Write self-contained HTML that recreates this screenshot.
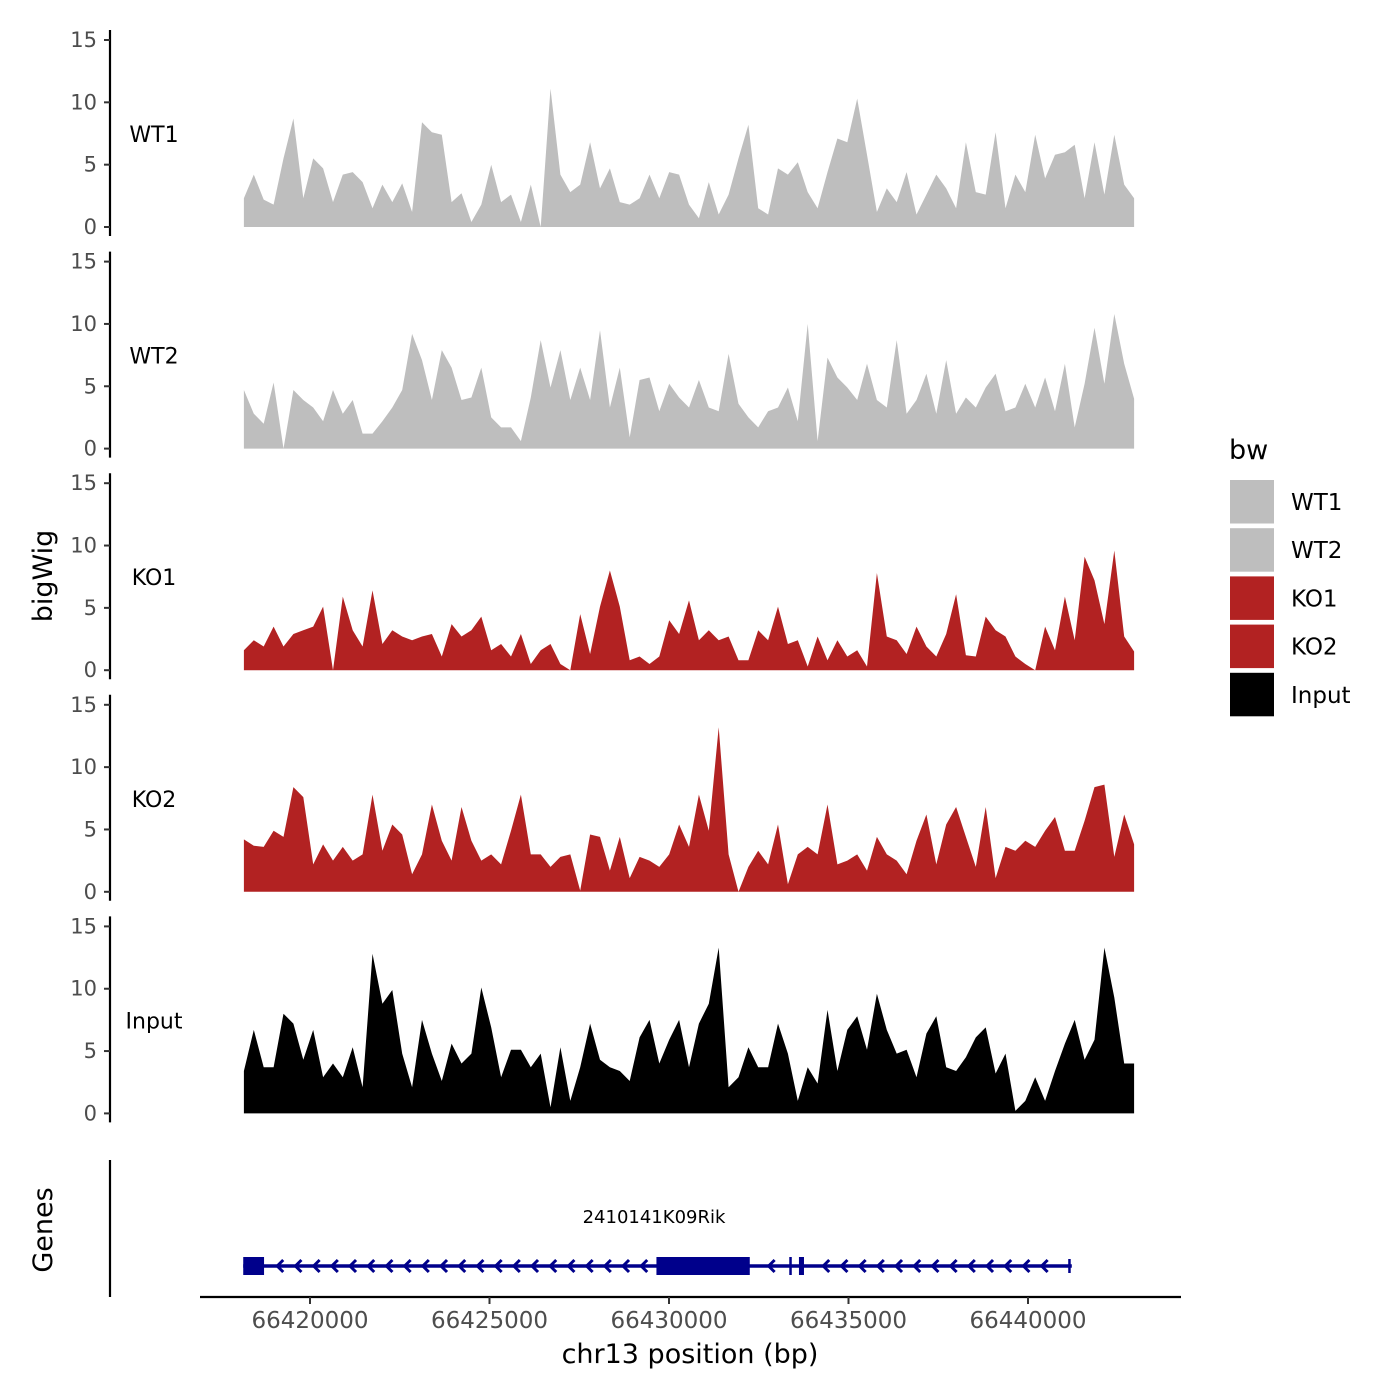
<!DOCTYPE html>
<html><head><meta charset="utf-8"><style>
html,body{margin:0;padding:0;background:#fff;}
svg{display:block;font-family:"DejaVu Sans","Liberation Sans",sans-serif;}
</style></head><body>
<svg id="chart" width="1400" height="1400" viewBox="0 0 1400 1400" xmlns="http://www.w3.org/2000/svg">
<rect width="1400" height="1400" fill="#fff"/>
<g id="tracks"></g>
<g id="genes"></g>
<g id="xaxis"></g>
<text x="52" y="576" font-size="27" text-anchor="middle" transform="rotate(-90 52 576)">bigWig</text>
<text x="52" y="1230" font-size="27" text-anchor="middle" transform="rotate(-90 52 1230)">Genes</text>
<text x="690" y="1363" font-size="27" text-anchor="middle">chr13 position (bp)</text>
<g id="legend"></g>
</svg>
<script>
const trackNames = ["WT1","WT2","KO1","KO2","Input"];
const trackColors = ["#bebebe","#bebebe","#b22222","#b22222","#000000"];
const startBp = 66418160;
const binBp = 275.5;
const wt1 = [2.3,4.2,2.2,1.8,5.5,8.7,2.3,5.5,4.7,2,4.2,4.4,3.6,1.5,3.4,2,3.5,1.2,8.4,7.6,7.4,2,2.7,0.4,1.8,5,2,2.6,0.4,3.4,0,11.1,4.2,2.8,3.4,6.8,3.1,4.7,2,1.8,2.3,4.2,2.3,4.4,4.2,1.8,0.7,3.6,1,2.6,5.5,8.2,1.5,1,4.7,4.2,5.2,2.8,1.5,4.4,7.1,6.8,10.3,5.8,1.2,3.1,2,4.4,1,2.6,4.2,3.1,1.5,6.8,2.8,2.6,7.6,1.5,4.2,2.8,7.4,3.9,5.8,6,6.6,2.3,6.8,2.6,7.4,3.4,2.3];
const wt2 = [4.7,2.8,2,5.3,0,4.7,3.9,3.3,2.2,4.7,2.8,3.9,1.2,1.2,2.2,3.3,4.7,9.2,7.1,3.9,7.9,6.5,3.9,4.1,6.5,2.5,1.7,1.7,0.6,4.1,8.7,4.9,7.9,3.9,6.5,3.9,9.5,3.3,6.5,0.9,5.5,5.7,3,5.2,4.1,3.3,5.5,3.3,3,7.6,3.6,2.5,1.7,3,3.3,4.9,2.2,10,0.6,7.3,5.7,4.9,3.9,6.8,3.9,3.3,8.7,2.8,3.9,6,2.8,7.1,2.8,4.1,3.3,4.9,6,3,3.3,5.2,3.3,5.7,3,6.8,1.7,5.2,9.7,5.2,10.8,6.8,4];
const ko1 = [1.6,2.4,1.9,3.5,1.9,2.9,3.2,3.5,5.1,0,5.9,3.2,1.9,6.4,2.1,3.2,2.7,2.4,2.7,2.9,1.1,3.7,2.7,3.2,4.3,1.6,2.1,1.1,2.9,0.5,1.6,2.1,0.5,0,4.5,1.3,5.1,8,5.1,0.8,1.1,0.5,1.1,4,2.9,5.6,2.4,3.2,2.4,2.7,0.8,0.8,3.2,2.4,5.1,2.1,2.4,0.3,2.7,0.8,2.4,1.1,1.6,0.3,7.8,2.7,2.4,1.3,3.5,1.9,1.1,2.9,6.1,1.2,1.1,4.3,3.2,2.7,1.1,0.5,0,3.5,1.6,5.9,2.4,9.1,7.2,3.7,9.6,2.7,1.5];
const ko2 = [4.2,3.7,3.6,4.9,4.4,8.4,7.6,2.2,3.8,2.5,3.6,2.5,3,7.8,3.3,5.4,4.6,1.4,3,7,4.1,2.5,6.8,4.1,2.5,3,2.2,4.9,7.8,3,3,2,2.8,3,0.1,4.6,4.4,1.7,4.4,1.1,2.8,2.5,2,3,5.4,3.6,7.8,4.9,13.2,3,0,2,3.3,2.2,5.4,0.6,3,3.6,3,7,2.2,2.5,3,1.7,4.4,3,2.5,1.4,4.1,6.2,2.2,5.4,6.8,4.4,2,6.8,1.1,3.6,3.3,4.1,3.6,4.9,6,3.3,3.3,5.7,8.4,8.6,2.8,6.2,3.8];
const inputv = [3.4,6.7,3.7,3.7,8,7.2,4.3,6.7,2.9,4,2.9,5.3,2.1,12.8,8.8,9.9,4.8,2.1,7.5,4.8,2.6,5.6,4,4.8,10.1,6.9,2.9,5.1,5.1,3.7,4.8,0.5,5.3,1,3.7,7.2,4.3,3.7,3.4,2.6,6.1,7.5,4,5.9,7.5,3.7,7.2,8.8,13.3,2.1,2.9,5.3,3.7,3.7,7.2,4.8,1,3.7,2.4,8.3,3.4,6.7,7.8,5.1,9.6,6.7,4.8,5.1,2.9,6.4,7.8,3.7,3.4,4.5,6.1,6.9,3.2,4.8,0.2,1,2.9,1,3.4,5.6,7.5,4.3,5.9,13.3,9.3,4,4];
const trackValues = [wt1,wt2,ko1,ko2,inputv];
const yTicks = [0,5,10,15];
const xTicks = [66420000,66425000,66430000,66435000,66440000];
const geneName = "2410141K09Rik";
const geneStart = 66418140, geneEnd = 66441220;
const exonStarts = [66418140,66418220,66429650,66433350,66433620,66441120];
const exonEnds =   [66418270,66418720,66432250,66433420,66433760,66441180];
const exonHeights = [18,18,18,18,18,14];

const NS="http://www.w3.org/2000/svg";
function mk(tag,attrs,parent){const e=document.createElementNS(NS,tag);for(const k in attrs)e.setAttribute(k,attrs[k]);parent.appendChild(e);return e;}
function xScale(bp){return 310+(bp-66420000)*0.0359;}
const panelTop0=40, panelStep=221.6, panelH=187, yMax=15;
function yScale(v,p){const base=panelTop0+p*panelStep+panelH;return base-v/yMax*panelH;}

const tracks=document.getElementById('tracks');
trackNames.forEach((name,p)=>{
  const g=mk('g',{},tracks);
  
  
  const vals=trackValues[p];
  const base=yScale(0,p);
  let pts=[[xScale(startBp),base]];
  vals.forEach((v,i)=>pts.push([xScale(startBp+i*binBp),yScale(v,p)]));
  pts.push([xScale(startBp+(vals.length-1)*binBp),base]);
  const area=mk('polygon',{points:pts.map(q=>q[0].toFixed(1)+','+q[1].toFixed(1)).join(' '),fill:trackColors[p]},g);
  
  
  const ax=mk('line',{x1:110,x2:110,y1:yScale(15,p)-10,y2:base+9,stroke:'#000','stroke-width':2.2},g);
  
  
  yTicks.forEach(t=>{
    const y=yScale(t,p);
    const tk=mk('line',{x1:104,x2:110,y1:y,y2:y,stroke:'#333','stroke-width':2},g);
    
    
    const tl=mk('text',{x:97,y:y+7,'font-size':21,fill:'#4d4d4d','text-anchor':'end'},g);
    tl.textContent=t;
    
    
  });
  const lab=mk('text',{x:154,y:yScale(15,p)+102,'font-size':22,'text-anchor':'middle'},g);
  lab.textContent=name;
  
  
});

// genes
const genes=document.getElementById('genes');
const gax=mk('line',{x1:110,x2:110,y1:1160,y2:1297,stroke:'#000','stroke-width':2.2},genes);


const gy=1266;
const gl=mk('line',{x1:xScale(geneStart),x2:xScale(geneEnd),y1:gy,y2:gy,stroke:'#00008b','stroke-width':3.5},genes);


for(let x=xScale(geneStart)+36;x<xScale(geneEnd)-8;x+=18.2){
  const inExon=exonStarts.some((s,i)=>x>xScale(s)-8&&x<xScale(exonEnds[i])+8);
  if(inExon)continue;
  const c=mk('polyline',{points:`${x+4},${gy-6} ${x-2},${gy} ${x+4},${gy+6}`,fill:'none',stroke:'#00008b','stroke-width':3},genes);
  
  
}
exonStarts.forEach((s,i)=>{
  const x1=xScale(s),x2=xScale(exonEnds[i]),h=exonHeights[i];
  const r=mk('rect',{x:x1,y:gy-h/2,width:Math.max(2.5,x2-x1),height:h,fill:'#00008b'},genes);
  
  
});
const gt=mk('text',{x:654,y:1223,'font-size':18,'text-anchor':'middle'},genes);
gt.textContent=geneName;



// x axis
const xa=document.getElementById('xaxis');
const xl=mk('line',{x1:200,x2:1181,y1:1297,y2:1297,stroke:'#000','stroke-width':2.2},xa);


xTicks.forEach(t=>{
  const x=xScale(t);
  const tk=mk('line',{x1:x,x2:x,y1:1297,y2:1304,stroke:'#333','stroke-width':2},xa);
  
  
  const tl=mk('text',{x:x,y:1328,'font-size':23,fill:'#4d4d4d','text-anchor':'middle'},xa);
  tl.textContent=t;
  
  
});

// legend
const lg=document.getElementById('legend');
const lt=mk('text',{x:1229,y:459,'font-size':27},lg);
lt.textContent='bw';


trackNames.forEach((n,i)=>{
  const y=480+i*48.2;
  const k=mk('rect',{x:1230,y:y,width:44,height:43.5,fill:trackColors[i]},lg);
  
  
  const t=mk('text',{x:1291,y:y+30,'font-size':23},lg);
  t.textContent=n;
  
  
});
</script>
</body></html>
